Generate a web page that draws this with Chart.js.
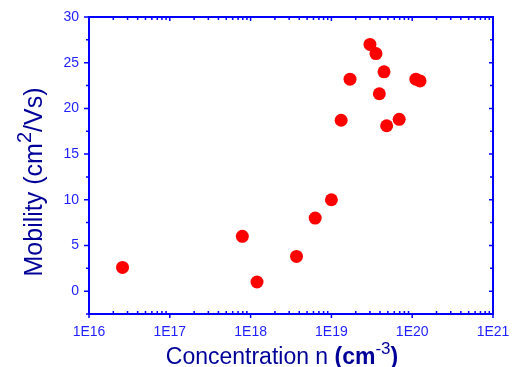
<!DOCTYPE html>
<html>
<head>
<meta charset="utf-8">
<script src="https://cdn.jsdelivr.net/npm/chart.js@4"></script>
<style>
  html, body { margin: 0; padding: 0; background: #fff; overflow: hidden; }
  #wrap { width: 512px; height: 367px; }
</style>
</head>
<body>
<div id="wrap"><canvas id="chart"></canvas></div>
<script>
// values
const concentration = [2.6e16, 7.9e17, 1.2e18, 3.7e18, 6.3e18, 1.0e19, 1.32e19, 1.7e19,
                       3.0e19, 3.56e19, 4.48e19, 3.92e19, 4.83e19, 6.9e19, 1.11e20, 1.25e20];
const mobility = [2.6, 6.0, 1.0, 3.8, 8.0, 10.0, 18.7, 23.2,
                  27.0, 26.0, 24.0, 21.6, 18.1, 18.8, 23.2, 23.0];

const xTickValues = [1e16, 1e17, 1e18, 1e19, 1e20, 1e21];
const yTickValues = [0, 5, 10, 15, 20, 25, 30];
const yMinorValues = [-2.5, 2.5, 7.5, 12.5, 17.5, 22.5, 27.5];

const axisBlue = "#0000ff";
const labelBlue = "#1f1fff";
const titleBlue = "#000099";
const fontFamily = "Arial, 'Liberation Sans', sans-serif";

// draws text made of pieces, some bold, some raised as superscript
function drawParts(ctx, parts, cx, baseY, size, supSize, rise) {
    const fontOf = p => (p.bold ? "bold " : "") + (p.sup ? supSize : size) + "px " + fontFamily;
    const widths = parts.map(p => {
        ctx.font = fontOf(p);
        return ctx.measureText(p.text).width;
    });
    let x = cx - widths.reduce((a, b) => a + b, 0) / 2;
    parts.forEach((p, i) => {
        ctx.font = fontOf(p);
        ctx.fillText(p.text, x, baseY - (p.sup ? rise : 0));
        x += widths[i];
    });
}

const framePlugin = {
    id: "frame",
    beforeDatasetsDraw(chart) {
        const { ctx, chartArea: a, scales } = chart;
        ctx.save();
        ctx.strokeStyle = axisBlue;
        ctx.lineWidth = 2;
        ctx.strokeRect(a.left, a.top, a.right - a.left, a.bottom - a.top);

        ctx.lineWidth = 1.5;
        ctx.beginPath();
        // x axis: majors outward, minors inward (also mirrored on top)
        for (let e = 16; e <= 21; e++) {
            const px = scales.x.getPixelForValue(Math.pow(10, e));
            ctx.moveTo(px, a.bottom); ctx.lineTo(px, a.bottom + 4);
            ctx.moveTo(px, a.top); ctx.lineTo(px, a.top + 4);
            if (e < 21) {
                for (let m = 2; m <= 9; m++) {
                    const mx = scales.x.getPixelForValue(m * Math.pow(10, e));
                    ctx.moveTo(mx, a.bottom); ctx.lineTo(mx, a.bottom - 3);
                    ctx.moveTo(mx, a.top); ctx.lineTo(mx, a.top + 3);
                }
            }
        }
        // y axis: ticks outward on the left, inward on the right
        yTickValues.forEach(v => {
            const py = scales.y.getPixelForValue(v);
            ctx.moveTo(a.left - 5, py); ctx.lineTo(a.left, py);
            ctx.moveTo(a.right, py); ctx.lineTo(a.right - 4, py);
        });
        yMinorValues.forEach(v => {
            const py = scales.y.getPixelForValue(v);
            ctx.moveTo(a.left - 3, py); ctx.lineTo(a.left, py);
            ctx.moveTo(a.right, py); ctx.lineTo(a.right - 3, py);
        });
        ctx.stroke();

        // axis titles
        ctx.fillStyle = titleBlue;
        ctx.textBaseline = "alphabetic";
        ctx.textAlign = "left";
        drawParts(ctx, [
            { text: "Concentration n " },
            { text: "(cm", bold: true },
            { text: "-3", sup: true },
            { text: ")", bold: true }
        ], 282, 364, 23, 17, 10);

        ctx.translate(42, 182);
        ctx.rotate(-Math.PI / 2);
        drawParts(ctx, [
            { text: "Mobility (cm" },
            { text: "2", sup: true },
            { text: "/Vs)" }
        ], 0, 0, 25, 20, 11);
        ctx.restore();
    }
};

const ctx = document.getElementById("chart").getContext("2d");

new Chart(ctx, {
    type: "scatter",
    data: {
        datasets: [{
            data: concentration.map((c, i) => ({ x: c, y: mobility[i] })),
            backgroundColor: "#ff0000",
            borderWidth: 0,
            pointRadius: 6.5,
            pointHoverRadius: 6.5
        }]
    },
    options: {
        responsive: true,
        maintainAspectRatio: false,
        animation: false,
        layout: { padding: { top: 17, right: 19, left: 0, bottom: 0 } },
        plugins: {
            legend: { display: false },
            tooltip: { enabled: false }
        },
        scales: {
            x: {
                type: "logarithmic",
                min: 1e16,
                max: 1e21,
                grid: { display: false, drawTicks: false },
                border: { display: false },
                afterBuildTicks: scale => {
                    scale.ticks = xTickValues.map(v => ({ value: v }));
                },
                afterFit: scale => {
                    scale.height = 53;
                    scale.paddingLeft = 0;
                    scale.paddingRight = 0;
                },
                ticks: {
                    autoSkip: false,
                    maxRotation: 0,
                    padding: 10,
                    color: labelBlue,
                    font: { family: fontFamily, size: 14 },
                    callback: v => "1E" + Math.round(Math.log10(v))
                }
            },
            y: {
                min: -2.5,
                max: 30,
                grid: { display: false, drawTicks: false },
                border: { display: false },
                afterBuildTicks: scale => {
                    scale.ticks = yTickValues.map(v => ({ value: v }));
                },
                afterFit: scale => {
                    scale.width = 89;
                    scale.paddingTop = 0;
                    scale.paddingBottom = 0;
                },
                ticks: {
                    padding: 10,
                    color: labelBlue,
                    font: { family: fontFamily, size: 14 }
                }
            }
        }
    },
    plugins: [framePlugin]
});
</script>
</body>
</html>
